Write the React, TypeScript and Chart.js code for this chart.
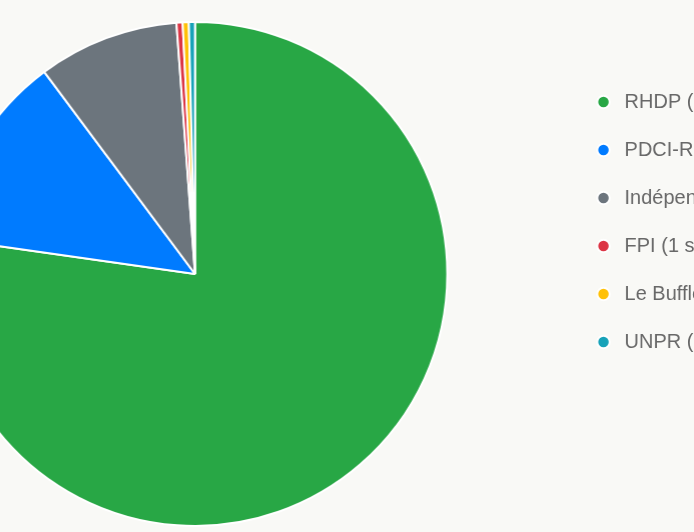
import React, { useEffect, useRef } from "react";
import { Chart, registerables } from "chart.js";

Chart.register(...registerables);

const partyLabels = [
  "RHDP (197 sièges)",
  "PDCI-RDA (32 sièges)",
  "Indépendants (23 sièges)",
  "FPI (1 siège)",
  "Le Buffle (1 siège)",
  "UNPR (1 siège)",
];
const seatCounts = [197, 32, 23, 1, 1, 1];
const sliceColors = ["#28a745", "#007bff", "#6c757d", "#dc3545", "#ffc107", "#17a2b8"];

export default function App() {
  const canvasRef = useRef<HTMLCanvasElement | null>(null);

  useEffect(() => {
    if (!canvasRef.current) return;
    const chart = new Chart(canvasRef.current, {
      type: "pie",
      data: {
        labels: partyLabels,
        datasets: [
          {
            data: seatCounts,
            backgroundColor: sliceColors,
            borderColor: "#ffffff",
            borderWidth: 2,
          },
        ],
      },
      options: {
        animation: false,
        responsive: true,
        maintainAspectRatio: false,
        layout: { padding: { top: 21, bottom: 5, left: 0, right: 0 } },
        plugins: {
          tooltip: { enabled: false },
          legend: {
            position: "right",
            align: "start",
            maxWidth: 170,
            title: { display: true, text: "", padding: { top: 31, bottom: 0 }, font: { size: 10 } },
            labels: {
              usePointStyle: true,
              pointStyle: "circle",
              boxWidth: 10.8,
              boxHeight: 8.8,
              padding: 28,
              color: "#686868",
              font: { family: "'Liberation Sans', Arial, sans-serif", size: 20 },
              generateLabels: (c) => {
                const base = Chart.overrides.pie.plugins.legend.labels.generateLabels(c);
                return base.map((it: any) => ({ ...it, text: " " + it.text }));
              },
            },
          },
        },
      },
    });
    return () => chart.destroy();
  }, []);

  return (
    <div
      style={{
        position: "fixed",
        left: 0,
        top: 0,
        width: 694,
        height: 532,
        overflow: "hidden",
        background: "#f9f9f6",
      }}
    >
      <div style={{ position: "absolute", left: -179.6, top: 0, width: 919.2, height: 532 }}>
        <canvas ref={canvasRef} />
      </div>
    </div>
  );
}
